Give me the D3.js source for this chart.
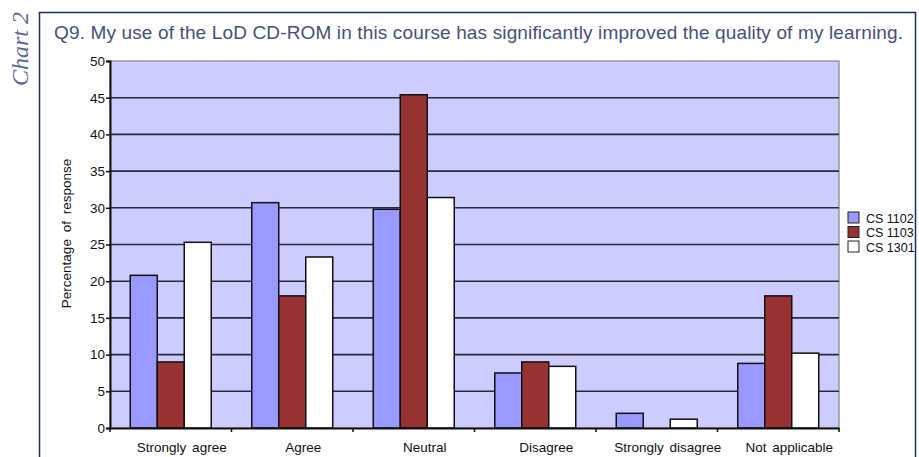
<!DOCTYPE html>
<html>
<head>
<meta charset="utf-8">
<script src="https://cdn.jsdelivr.net/npm/d3@7"></script>
<style>
  body { margin: 0; background: #fff; }
  svg { display: block; }
  text { font-family: "Liberation Sans", Arial, sans-serif; }
</style>
</head>
<body>
<svg width="919" height="457"></svg>
<script>
// chart values
var categories = ["Strongly agree", "Agree", "Neutral", "Disagree", "Strongly disagree", "Not applicable"];
var seriesNames = ["CS 1102", "CS 1103", "CS 1301"];
var cs1102 = [20.8, 30.7, 29.8, 7.5, 2.0, 8.8];
var cs1103 = [9.0, 18.0, 45.4, 9.0, 0, 18.0];
var cs1301 = [25.3, 23.3, 31.4, 8.4, 1.2, 10.2];
var yTicks = [0, 5, 10, 15, 20, 25, 30, 35, 40, 45, 50];
var colors = ["#9999ff", "#993333", "#ffffff"];

var series = [cs1102, cs1103, cs1301];

var svg = d3.select("svg"),
    margin = {top: 61, left: 110},
    width = 839 - margin.left,
    height = 428 - margin.top;

// outer frame
svg.append("rect")
    .attr("x", 39.5).attr("y", 12.5)
    .attr("width", 876).attr("height", 460)
    .attr("fill", "none")
    .attr("stroke", "#1f2a6b")
    .attr("stroke-width", 1.5);

svg.append("text")
    .attr("transform", "translate(28,49) rotate(-90)")
    .attr("text-anchor", "middle")
    .style("font-family", "'Liberation Serif', serif")
    .attr("font-style", "italic")
    .attr("font-size", 24)
    .attr("fill", "#5a6898")
    .text("Chart 2");

svg.append("text")
    .attr("x", 54).attr("y", 39)
    .attr("font-size", 19)
    .attr("fill", "#45507c")
    .attr("textLength", 849)
    .attr("lengthAdjust", "spacing")
    .text("Q9. My use of the LoD CD-ROM in this course has significantly improved the quality of my learning.");

var g = svg.append("g").attr("transform", "translate(" + margin.left + "," + margin.top + ")");

var x = d3.scaleBand()
    .domain(categories)
    .range([0, width]);

var x1 = d3.scaleBand()
    .domain(d3.range(series.length))
    .range([x.bandwidth() / 6, x.bandwidth() * 5 / 6]);

var y = d3.scaleLinear()
    .domain([0, 50])
    .range([height, 0]);

g.append("rect")
    .attr("width", width).attr("height", height)
    .attr("fill", "#ccccff")
    .attr("stroke", "#999")
    .attr("stroke-width", 1.5);

g.append("g")
    .selectAll("line")
    .data(yTicks.slice(1, -1))
    .join("line")
    .attr("x1", 0).attr("x2", width)
    .attr("y1", d => y(d)).attr("y2", d => y(d))
    .attr("stroke", "#2a2a3a")
    .attr("stroke-width", 1.6);

var groups = g.append("g")
    .selectAll("g")
    .data(categories)
    .join("g")
    .attr("transform", d => "translate(" + x(d) + ",0)");

groups.selectAll("rect")
    .data((d, i) => series.map((s, j) => ({j: j, v: s[i]})).filter(e => e.v > 0))
    .join("rect")
    .attr("x", d => x1(d.j))
    .attr("width", x1.bandwidth())
    .attr("y", d => y(d.v))
    .attr("height", d => height - y(d.v))
    .attr("fill", d => colors[d.j])
    .attr("stroke", "#111")
    .attr("stroke-width", 1.5);

var yAxis = g.append("g")
    .call(d3.axisLeft(y).tickValues(yTicks).tickSize(4).tickPadding(1));
yAxis.select(".domain").attr("stroke", "#111").attr("stroke-width", 2);
yAxis.selectAll(".tick line").attr("stroke", "#111").attr("stroke-width", 1.5);
yAxis.selectAll("text")
    .attr("font-family", null)
    .attr("font-size", 13.5)
    .attr("fill", "#111");

var xAxis = g.append("g")
    .attr("transform", "translate(0," + height + ")")
    .call(d3.axisBottom(x).tickSize(0).tickPadding(14));
xAxis.select(".domain").attr("stroke", "#111").attr("stroke-width", 2);
xAxis.selectAll("text")
    .attr("font-family", null)
    .attr("font-size", 13.5)
    .attr("word-spacing", 2)
    .attr("dx", 11)
    .attr("fill", "#111");

// category boundary ticks
xAxis.append("g")
    .selectAll("line")
    .data(d3.range(categories.length + 1))
    .join("line")
    .attr("x1", d => d * x.bandwidth()).attr("x2", d => d * x.bandwidth())
    .attr("y1", 0).attr("y2", 4)
    .attr("stroke", "#111")
    .attr("stroke-width", 1.5);

g.append("text")
    .attr("transform", "translate(-39," + (y(26.5)) + ") rotate(-90)")
    .attr("text-anchor", "middle")
    .attr("font-size", 13.5)
    .attr("word-spacing", 3)
    .attr("fill", "#111")
    .text("Percentage of response");

var legend = svg.append("g")
    .attr("transform", "translate(848,212)")
    .selectAll("g")
    .data(seriesNames)
    .join("g")
    .attr("transform", (d, i) => "translate(0," + (i * 14.5) + ")");

legend.append("rect")
    .attr("width", 11).attr("height", 11)
    .attr("fill", (d, i) => colors[i])
    .attr("stroke", "#222");

legend.append("text")
    .attr("x", 18).attr("y", 10.5)
    .attr("font-size", 12.5)
    .attr("fill", "#111")
    .text(d => d);
</script>
</body>
</html>
